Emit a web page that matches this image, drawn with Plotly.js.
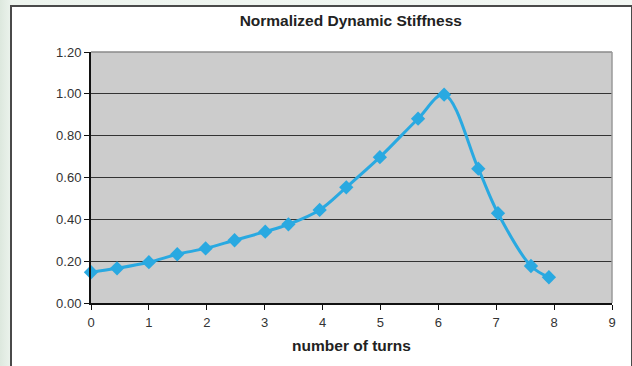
<!DOCTYPE html>
<html>
<head>
<meta charset="utf-8">
<script src="https://cdn.plot.ly/plotly-3.0.1.min.js"></script>
<style>
html,body{margin:0;padding:0;width:632px;height:366px;overflow:hidden;}
body{background:linear-gradient(90deg,#dde8de 0px,#edf4ee 12px,#f2f7f3 100%);}
#frame{position:absolute;left:10px;top:5px;width:619px;height:380px;background:#fff;border:2px solid #4a4a4a;}
#chart{position:absolute;left:0;top:0;width:632px;height:366px;}
</style>
</head>
<body>
<div id="frame"></div>
<div id="chart"></div>
<script>
const turns = [0.0, 0.45, 1.0, 1.49, 1.98, 2.48, 3.01, 3.41, 3.95, 4.41, 4.99, 5.65, 6.10, 6.69, 7.03, 7.60, 7.91];
const stiffness = [0.147, 0.166, 0.195, 0.233, 0.261, 0.300, 0.341, 0.376, 0.445, 0.553, 0.697, 0.881, 0.996, 0.642, 0.429, 0.177, 0.123];
const xTicks = [0,1,2,3,4,5,6,7,8,9];
const yTicks = [0,0.2,0.4,0.6,0.8,1.0,1.2];

const trace = {
  x: turns, y: stiffness, type: 'scatter', mode: 'lines+markers',
  line: {color: '#29a9e1', width: 3, shape: 'spline', smoothing: 1},
  marker: {symbol: 'diamond', size: 11, color: '#29a9e1'},
  hoverinfo: 'none', showlegend: false, cliponaxis: false
};

const layout = {
  width: 632, height: 366,
  margin: {l: 90.5, r: 20, t: 52, b: 62.5, pad: 0},
  paper_bgcolor: 'rgba(0,0,0,0)',
  plot_bgcolor: '#cccccc',
  font: {family: 'Liberation Sans, Arial, sans-serif', color: '#333333', size: 13},
  title: {text: '<b>Normalized Dynamic Stiffness</b>', x: 0.555, xanchor: 'center', y: 0.945, yanchor: 'middle',
          font: {family: 'Liberation Sans, Arial, sans-serif', size: 15.5, color: '#222222'}},
  xaxis: {
    range: [0, 9], tickvals: xTicks, ticktext: xTicks.map(String),
    ticks: 'outside', ticklen: 5, tickwidth: 1, tickcolor: '#111',
    showline: true, linecolor: '#111', linewidth: 2, showgrid: false, zeroline: false,
    ticklabelstandoff: 1,
    tickfont: {size: 13, color: '#333'},
    title: {text: '<b>number of turns</b>', standoff: 12, font: {size: 15.5, color: '#222'}}
  },
  yaxis: {
    range: [0, 1.2], tickvals: yTicks, ticktext: yTicks.map(v => v.toFixed(2)),
    ticks: 'outside', ticklen: 5, tickwidth: 1, tickcolor: '#111',
    showline: true, linecolor: '#111', linewidth: 2,
    showgrid: true, gridcolor: '#333333', gridwidth: 1, zeroline: false,
    tickfont: {size: 13, color: '#333'}
  },
  shapes: [
    {type: 'line', xref: 'paper', yref: 'paper', x0: 0, x1: 1, y0: 1, y1: 1, line: {color: '#8a8a8a', width: 1.5}},
    {type: 'line', xref: 'paper', yref: 'paper', x0: 1, x1: 1, y0: 0, y1: 1, line: {color: '#9a9a9a', width: 1.5}}
  ]
};

Plotly.newPlot('chart', [trace], layout, {displayModeBar: false, staticPlot: true});
</script>
</body>
</html>
